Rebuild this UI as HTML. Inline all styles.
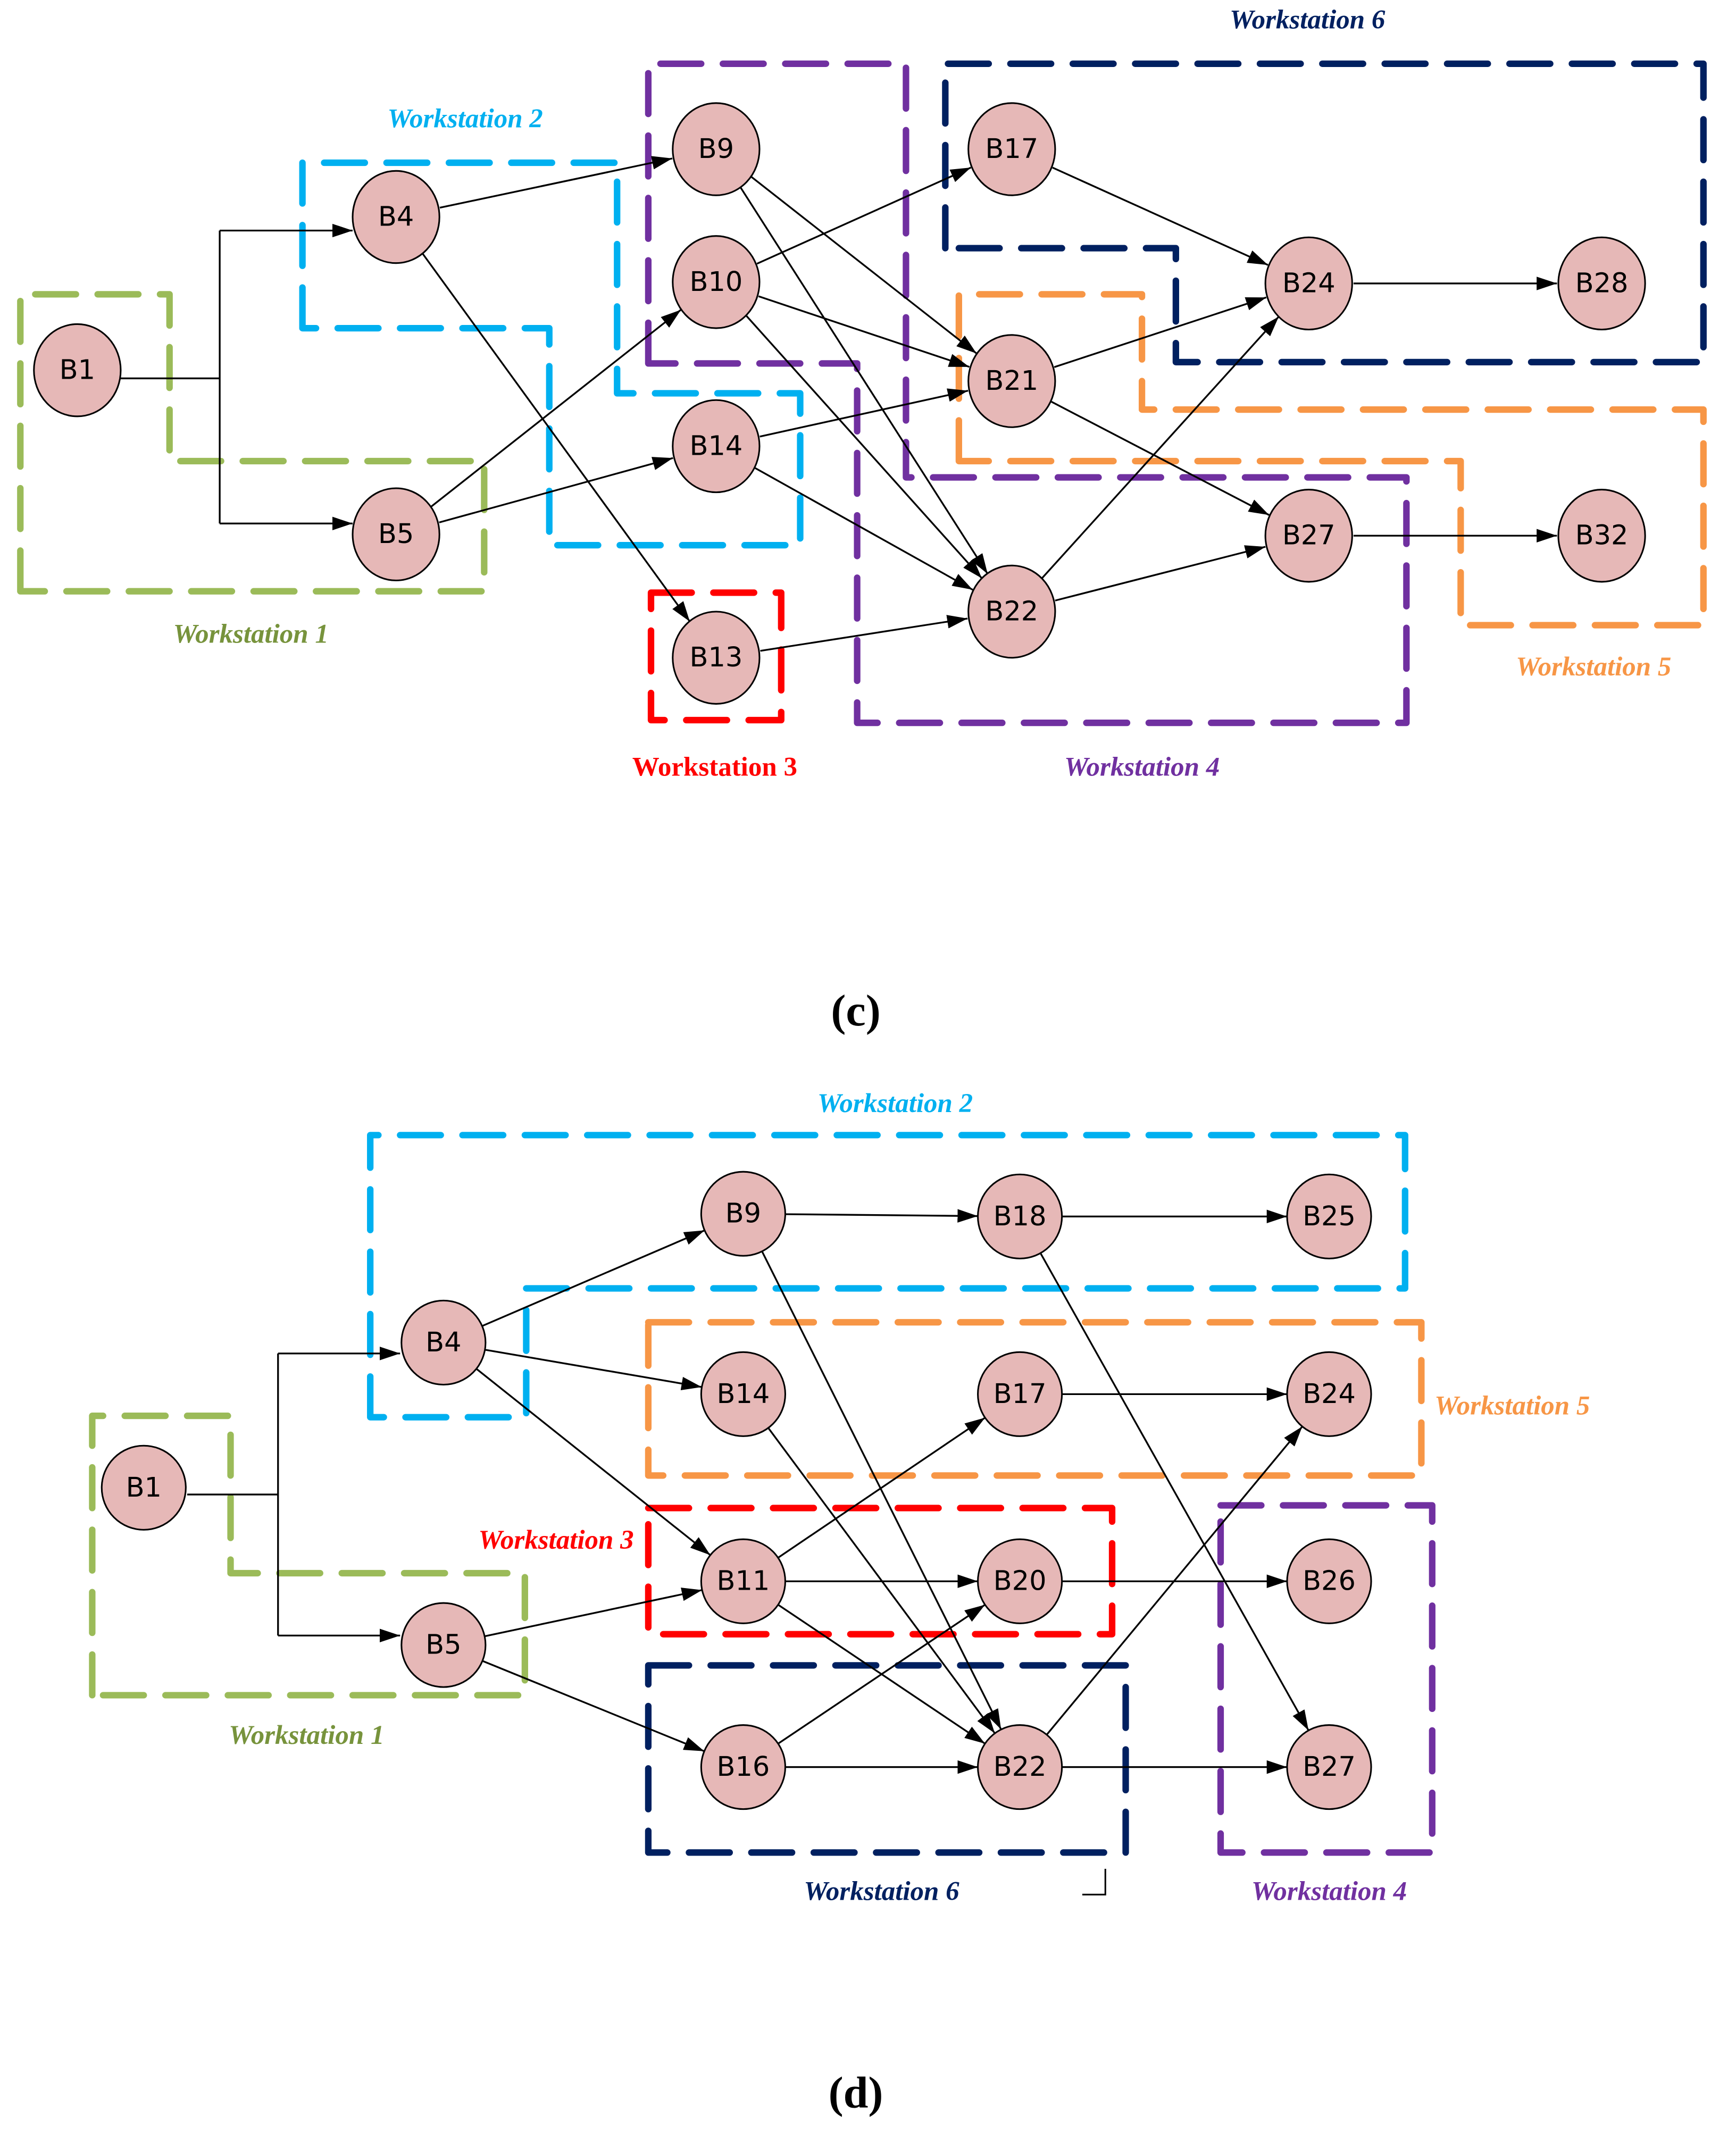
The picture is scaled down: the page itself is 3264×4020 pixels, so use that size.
<!DOCTYPE html>
<html><head><meta charset="utf-8"><style>
html,body{margin:0;padding:0;background:#fff;}
svg{display:block;}
.n ellipse{fill:#E6B8B7;stroke:#000;stroke-width:1.2;}
.n text{font-family:"DejaVu Sans","Liberation Sans",sans-serif;font-size:20px;text-anchor:middle;dominant-baseline:central;fill:#000;}
.ws{font-family:"Liberation Serif",serif;font-weight:bold;font-style:italic;font-size:20px;text-anchor:middle;}
.box{fill:none;stroke-width:4.8;stroke-dasharray:30 16;stroke-linecap:round;stroke-linejoin:round;}
.e{stroke:#000;stroke-width:1.3;fill:none;}
</style></head><body>
<svg width="3264" height="4020" viewBox="0 0 1280 1576.5" preserveAspectRatio="none" xmlns="http://www.w3.org/2000/svg">
<defs><marker id="a" markerWidth="16" markerHeight="12" refX="15" refY="5" orient="auto" markerUnits="userSpaceOnUse"><path d="M0,0 L15,5 L0,10 z" fill="#000"/></marker></defs>
<!-- boxes (c) -->
<path class="box" stroke="#9BBB59" d="M15,436 L15,217 L125,217 L125,340 L357,340 L357,436 Z"/>
<path class="box" stroke="#00B0F0" d="M223,242 L223,120 L455,120 L455,290 L590,290 L590,402 L405,402 L405,242 Z"/>
<path class="box" stroke="#FF0000" d="M480,437 L576,437 L576,531 L480,531 Z"/>
<path class="box" stroke="#7030A0" d="M478,268 L478,47 L668,47 L668,352 L1037,352 L1037,533 L632,533 L632,268 Z"/>
<path class="box" stroke="#F79646" d="M707,340 L707,217 L842,217 L842,302 L1256,302 L1256,461 L1077,461 L1077,340 Z"/>
<path class="box" stroke="#002060" d="M697,183 L697,47 L1256,47 L1256,267 L867,267 L867,183 Z"/>
<text class="ws" x="185" y="474" fill="#77933C">Workstation 1</text>
<text class="ws" x="343" y="94" fill="#00B0F0">Workstation 2</text>
<text class="ws" x="527" y="572" fill="#FF0000" style="font-style:normal">Workstation 3</text>
<text class="ws" x="842" y="572" fill="#7030A0">Workstation 4</text>
<text class="ws" x="1175" y="498" fill="#F79646">Workstation 5</text>
<text class="ws" x="964" y="21" fill="#002060">Workstation 6</text>
<text x="631" y="756" style="font-family:'Liberation Serif',serif;font-weight:bold;font-size:33px;text-anchor:middle">(c)</text>
<!-- boxes (d) -->
<path class="box" stroke="#00B0F0" d="M273,1045 L273,837 L1036,837 L1036,950 L388,950 L388,1045 Z"/>
<path class="box" stroke="#F79646" d="M478,975 L1048,975 L1048,1088 L478,1088 Z"/>
<path class="box" stroke="#FF0000" d="M478,1112 L820,1112 L820,1205 L478,1205 Z"/>
<path class="box" stroke="#002060" d="M478,1228 L830,1228 L830,1366 L478,1366 Z"/>
<path class="box" stroke="#7030A0" d="M900,1110 L1056,1110 L1056,1366 L900,1366 Z"/>
<path class="box" stroke="#9BBB59" d="M68,1250 L68,1044 L170,1044 L170,1160 L387,1160 L387,1250 Z"/>
<path d="M798,1397 L815,1397 L815,1378" stroke="#000" stroke-width="1.2" fill="none"/>
<text class="ws" x="226" y="1286" fill="#77933C">Workstation 1</text>
<text class="ws" x="660" y="820" fill="#00B0F0">Workstation 2</text>
<text class="ws" x="410" y="1142" fill="#FF0000">Workstation 3</text>
<text class="ws" x="980" y="1401" fill="#7030A0">Workstation 4</text>
<text class="ws" x="1115" y="1043" fill="#F79646">Workstation 5</text>
<text class="ws" x="650" y="1401" fill="#002060">Workstation 6</text>
<text x="631" y="1554" style="font-family:'Liberation Serif',serif;font-weight:bold;font-size:33px;text-anchor:middle">(d)</text>
<g id="edges"></g>
<path class="e" d="M89,279 L162,279 M162,170 L162,386"/>
<line class="e" x1="162" y1="170" x2="260" y2="170" marker-end="url(#a)"/>
<line class="e" x1="162" y1="386" x2="260" y2="386" marker-end="url(#a)"/>
<path class="e" d="M138,1102 L205,1102 M205,998 L205,1206"/>
<line class="e" x1="205" y1="998" x2="295" y2="998" marker-end="url(#a)"/>
<line class="e" x1="205" y1="1206" x2="295" y2="1206" marker-end="url(#a)"/>
<g id="nodes">
<g class="n"><ellipse cx="57" cy="273" rx="32" ry="34"/><text x="57" y="273">B1</text></g>
<g class="n"><ellipse cx="292" cy="160" rx="32" ry="34"/><text x="292" y="160">B4</text></g>
<g class="n"><ellipse cx="292" cy="394" rx="32" ry="34"/><text x="292" y="394">B5</text></g>
<g class="n"><ellipse cx="528" cy="110" rx="32" ry="34"/><text x="528" y="110">B9</text></g>
<g class="n"><ellipse cx="528" cy="208" rx="32" ry="34"/><text x="528" y="208">B10</text></g>
<g class="n"><ellipse cx="528" cy="329" rx="32" ry="34"/><text x="528" y="329">B14</text></g>
<g class="n"><ellipse cx="528" cy="485" rx="32" ry="34"/><text x="528" y="485">B13</text></g>
<g class="n"><ellipse cx="746" cy="110" rx="32" ry="34"/><text x="746" y="110">B17</text></g>
<g class="n"><ellipse cx="746" cy="281" rx="32" ry="34"/><text x="746" y="281">B21</text></g>
<g class="n"><ellipse cx="746" cy="451" rx="32" ry="34"/><text x="746" y="451">B22</text></g>
<g class="n"><ellipse cx="965" cy="209" rx="32" ry="34"/><text x="965" y="209">B24</text></g>
<g class="n"><ellipse cx="965" cy="395" rx="32" ry="34"/><text x="965" y="395">B27</text></g>
<g class="n"><ellipse cx="1181" cy="209" rx="32" ry="34"/><text x="1181" y="209">B28</text></g>
<g class="n"><ellipse cx="1181" cy="395" rx="32" ry="34"/><text x="1181" y="395">B32</text></g>
<g class="n"><ellipse cx="106" cy="1097" rx="31" ry="31"/><text x="106" y="1097">B1</text></g>
<g class="n"><ellipse cx="327" cy="990" rx="31" ry="31"/><text x="327" y="990">B4</text></g>
<g class="n"><ellipse cx="327" cy="1213" rx="31" ry="31"/><text x="327" y="1213">B5</text></g>
<g class="n"><ellipse cx="548" cy="895" rx="31" ry="31"/><text x="548" y="895">B9</text></g>
<g class="n"><ellipse cx="752" cy="897" rx="31" ry="31"/><text x="752" y="897">B18</text></g>
<g class="n"><ellipse cx="980" cy="897" rx="31" ry="31"/><text x="980" y="897">B25</text></g>
<g class="n"><ellipse cx="548" cy="1028" rx="31" ry="31"/><text x="548" y="1028">B14</text></g>
<g class="n"><ellipse cx="752" cy="1028" rx="31" ry="31"/><text x="752" y="1028">B17</text></g>
<g class="n"><ellipse cx="980" cy="1028" rx="31" ry="31"/><text x="980" y="1028">B24</text></g>
<g class="n"><ellipse cx="548" cy="1166" rx="31" ry="31"/><text x="548" y="1166">B11</text></g>
<g class="n"><ellipse cx="752" cy="1166" rx="31" ry="31"/><text x="752" y="1166">B20</text></g>
<g class="n"><ellipse cx="980" cy="1166" rx="31" ry="31"/><text x="980" y="1166">B26</text></g>
<g class="n"><ellipse cx="548" cy="1303" rx="31" ry="31"/><text x="548" y="1303">B16</text></g>
<g class="n"><ellipse cx="752" cy="1303" rx="31" ry="31"/><text x="752" y="1303">B22</text></g>
<g class="n"><ellipse cx="980" cy="1303" rx="31" ry="31"/><text x="980" y="1303">B27</text></g>
</g>
</svg>
<script>
(function(){
var C={B4:[292,160],B5:[292,394],B9:[528,110],B10:[528,208],B14:[528,329],B13:[528,485],B17:[746,110],B21:[746,281],B22:[746,451],B24:[965,209],B27:[965,395],B28:[1181,209],B32:[1181,395]};
var D={B4:[327,990],B5:[327,1213],B9:[548,895],B18:[752,897],B25:[980,897],B14:[548,1028],B17:[752,1028],B24:[980,1028],B11:[548,1166],B20:[752,1166],B26:[980,1166],B16:[548,1303],B22:[752,1303],B27:[980,1303]};
var ec=[["B4","B9"],["B4","B13"],["B5","B10"],["B5","B14"],["B9","B21"],["B9","B22"],["B10","B17"],["B10","B21"],["B10","B22"],["B14","B21"],["B14","B22"],["B13","B22"],["B17","B24"],["B21","B24"],["B21","B27"],["B22","B24"],["B22","B27"],["B24","B28"],["B27","B32"]];
var ed=[["B4","B9"],["B4","B14"],["B4","B11"],["B5","B11"],["B5","B16"],["B9","B18"],["B9","B22"],["B18","B25"],["B18","B27"],["B14","B22"],["B17","B24"],["B11","B17"],["B11","B20"],["B11","B22"],["B16","B20"],["B16","B22"],["B20","B26"],["B22","B24"],["B22","B27"]];
var g=document.getElementById("edges"),ns="http://www.w3.org/2000/svg";
function draw(M,E,r){E.forEach(function(e){var a=M[e[0]],b=M[e[1]];var dx=b[0]-a[0],dy=b[1]-a[1],L=Math.sqrt(dx*dx+dy*dy);var ux=dx/L,uy=dy/L;var l=document.createElementNS(ns,"line");l.setAttribute("class","e");l.setAttribute("x1",a[0]+ux*r);l.setAttribute("y1",a[1]+uy*r);l.setAttribute("x2",b[0]-ux*r);l.setAttribute("y2",b[1]-uy*r);l.setAttribute("marker-end","url(#a)");g.appendChild(l);});}
draw(C,ec,33);draw(D,ed,31);
})();
</script>
</body></html>
